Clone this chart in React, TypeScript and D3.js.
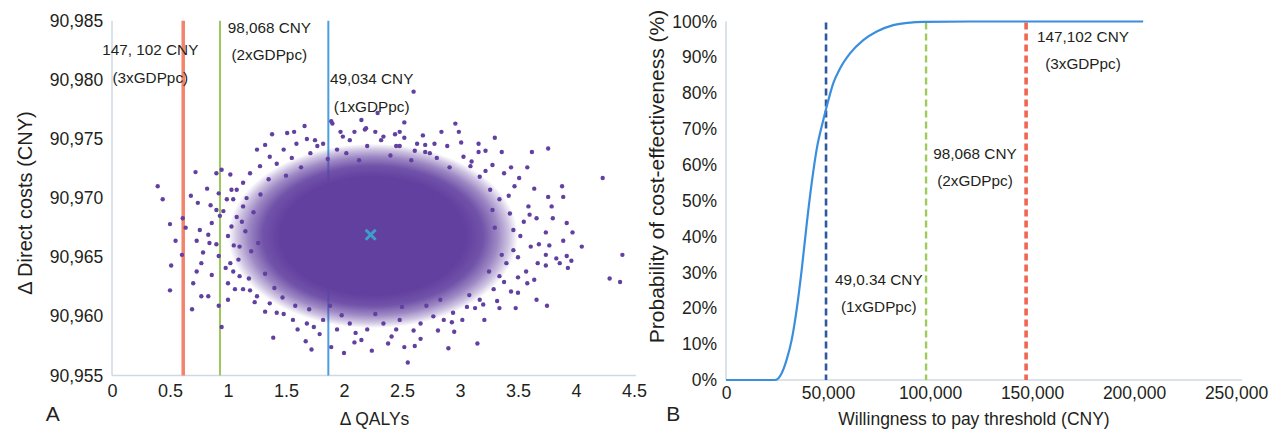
import React, { useEffect, useRef } from "react";
import * as d3 from "d3";

const W = 1279;
const H = 430;
const FONT = "'Liberation Sans', Arial, Helvetica, sans-serif";
const INK = "#231f20";
const PURPLE = "#6240a0";

// ---- panel A : cost-effectiveness plane ----
const qalyTicks = [0, 0.5, 1, 1.5, 2, 2.5, 3, 3.5, 4, 4.5];
const costTicks = [90955, 90960, 90965, 90970, 90975, 90980, 90985];

// where the three WTP lines sit on the QALY axis
const planeLineQaly = [0.614, 0.931, 1.865];
const planeLineWtp = ["147, 102 CNY", "98,068 CNY", "49,034 CNY"];
const planeLineGdp = ["(3xGDPpc)", "(2xGDPpc)", "(1xGDPpc)"];

// the dense part of the PSA cloud: centre and half-width (QALY, CNY)
const cloudCenter = [2.25, 90966.8];
const cloudSpread = [1.25, 7.8];
const meanPoint = [2.23, 90966.9];

// the sparse PSA iterations around the cloud [QALY, cost]
const psaPoints: [number, number][] = [
  [0.394, 90971.0], [0.437, 90969.9], [0.5, 90967.8], [0.548, 90966.4], [0.51, 90964.3], [0.5, 90962.2],
  [0.61, 90968.3], [0.635, 90967.5], [0.603, 90965.2], [0.7, 90962.8], [0.69, 90960.6], [0.72, 90972.2],
  [0.68, 90970.2], [0.74, 90969.6], [0.757, 90967.3], [0.73, 90966.4], [0.785, 90965.4], [0.77, 90964.5],
  [0.73, 90963.8], [0.77, 90961.7], [0.83, 90961.7], [0.82, 90970.8], [0.85, 90969.4], [0.86, 90967.9],
  [0.83, 90966.9], [0.84, 90966.2], [0.86, 90963.5], [0.9, 90972.1], [0.945, 90972.4], [0.92, 90970.4],
  [0.9, 90969.0], [0.93, 90968.5], [0.9, 90966.1], [0.92, 90965.1], [0.92, 90960.9], [0.945, 90959.1],
  [1.02, 90972.0], [1.03, 90970.7], [0.99, 90969.9], [1.0, 90962.8], [1.0, 90961.4], [1.06, 90962.3],
  [1.1, 90963.4], [1.19, 90962.2], [1.25, 90974.1], [1.32, 90974.5], [1.38, 90975.4], [1.51, 90975.5],
  [1.57, 90975.6], [1.39, 90958.2], [1.32, 90960.4], [1.23, 90961.2], [1.48, 90960.2], [1.67, 90957.9],
  [1.6, 90958.9], [1.74, 90959.1], [1.9, 90976.3], [1.89, 90957.4], [2.0, 90956.9], [2.09, 90957.8],
  [2.15, 90958.0], [2.41, 90958.3], [1.99, 90975.2], [2.09, 90975.6], [2.18, 90975.8], [2.32, 90974.9],
  [1.68, 90975.0], [1.77, 90974.4], [2.29, 90977.2], [2.6, 90979.0], [1.89, 90976.5], [2.19, 90975.9],
  [2.96, 90976.3], [2.84, 90975.6], [2.48, 90975.6], [2.44, 90975.4], [2.63, 90974.6], [2.7, 90974.5],
  [2.78, 90974.6], [3.01, 90974.7], [3.16, 90974.6], [3.3, 90975.1], [3.36, 90973.9], [3.16, 90973.9],
  [2.61, 90974.0], [3.62, 90973.9], [3.76, 90974.2], [3.58, 90972.6], [3.51, 90971.7], [3.64, 90970.8],
  [3.76, 90970.1], [3.88, 90971.0], [3.89, 90970.1], [3.79, 90969.3], [3.59, 90969.3], [3.6, 90968.6],
  [3.66, 90968.3], [3.8, 90968.3], [3.92, 90967.9], [3.97, 90967.1], [3.74, 90967.1], [3.89, 90966.4],
  [4.05, 90965.9], [3.77, 90966.0], [3.68, 90966.1], [3.61, 90965.9], [3.74, 90965.2], [3.83, 90964.9],
  [3.92, 90965.1], [3.96, 90964.7], [3.93, 90964.1], [3.86, 90964.5], [3.74, 90964.3], [3.67, 90964.5],
  [3.64, 90963.1], [3.57, 90963.8], [3.5, 90963.3], [3.5, 90962.0], [3.44, 90962.1], [3.66, 90961.4],
  [3.75, 90960.9], [3.48, 90960.7], [3.34, 90960.7], [3.21, 90959.7], [3.13, 90960.7], [3.02, 90959.7],
  [2.93, 90959.5], [2.86, 90959.7], [2.81, 90958.8], [2.66, 90958.1], [2.61, 90957.5], [2.52, 90957.4],
  [3.15, 90957.7], [2.55, 90956.1], [4.23, 90971.7], [4.4, 90965.2], [4.29, 90963.2], [4.38, 90962.9],
  [3.44, 90972.6], [3.38, 90972.1], [3.28, 90972.8],
  [1.276, 90972.7], [1.19, 90972.1], [1.13, 90971.3], [1.075, 90970.7], [1.045, 90969.9], [1.03, 90967.6],
  [1.0, 90966.8], [1.02, 90964.5], [1.045, 90963.8], [1.09, 90964.8], [1.1, 90965.9], [1.075, 90968.4],
  [1.13, 90969.3], [1.13, 90962.3], [1.25, 90961.7], [1.36, 90961.1], [1.42, 90960.3], [1.56, 90959.7],
  [1.68, 90959.4], [1.82, 90959.7], [1.94, 90958.9], [2.05, 90959.4], [2.2, 90958.9], [2.34, 90959.4],
  [2.45, 90958.9], [1.36, 90973.5], [1.48, 90974.1], [1.59, 90974.6], [1.71, 90973.8], [1.82, 90974.6],
  [1.94, 90974.1], [2.05, 90974.9], [2.2, 90974.4], [2.34, 90975.2], [2.45, 90974.4],
  [3.03, 90973.5], [3.09, 90972.7], [3.17, 90971.8], [3.26, 90970.7], [3.34, 90969.9], [3.43, 90968.7],
  [3.46, 90967.3], [3.52, 90966.8], [3.46, 90965.6], [3.4, 90964.5], [3.34, 90963.4], [3.29, 90962.3],
  [3.17, 90961.4], [3.06, 90960.8], [2.94, 90960.3], [2.77, 90960.0], [2.66, 90959.4], [2.48, 90959.7],
  [2.89, 90974.4], [2.74, 90973.8], [2.48, 90974.4],
  [1.42, 90972.9], [1.55, 90973.4], [1.63, 90972.6], [1.75, 90974.9], [1.86, 90973.3], [1.97, 90975.6],
  [2.02, 90973.8], [2.13, 90973.2], [2.27, 90975.6], [2.4, 90973.6], [2.52, 90975.1], [2.58, 90973.2],
  [2.68, 90975.3], [2.8, 90973.4], [2.91, 90972.6], [2.99, 90975.6], [3.1, 90973.1], [3.22, 90974.0],
  [1.5, 90971.9], [2.7, 90973.9], [2.15, 90976.6], [2.52, 90976.4], [1.66, 90976.1],
  [1.47, 90961.6], [1.58, 90960.9], [1.7, 90960.6], [1.79, 90958.5], [1.88, 90960.9], [1.98, 90960.1],
  [2.1, 90958.6], [2.27, 90960.2], [2.38, 90957.7], [2.5, 90960.8], [2.6, 90958.8], [2.71, 90960.9],
  [2.83, 90961.4], [2.95, 90958.7], [3.08, 90961.8], [3.2, 90961.0], [2.24, 90957.1], [1.72, 90957.2],
  [2.9, 90957.3],
  [1.15, 90967.2], [1.2, 90965.5], [1.22, 90968.8], [1.28, 90970.3], [1.32, 90963.6], [1.18, 90963.2],
  [1.26, 90966.2], [1.12, 90968.0], [1.35, 90971.6], [1.4, 90962.4], [1.05, 90966.0], [1.16, 90970.0],
  [0.98, 90964.1], [0.96, 90968.9],
  [3.3, 90967.5], [3.36, 90965.2], [3.28, 90969.0], [3.42, 90970.2], [3.25, 90963.8], [3.38, 90962.9],
  [3.5, 90965.0], [3.55, 90968.0], [3.47, 90971.0], [3.32, 90961.3], [3.58, 90962.8], [3.22, 90972.3],
];

// ---- panel B : acceptability curve ----
const wtpTicks = [0, 50000, 100000, 150000, 200000, 250000];
const probTicks = [0, 10, 20, 30, 40, 50, 60, 70, 80, 90, 100];
const wtpThresholds = [49034, 98068, 147102];
const wtpLabels = ["49,0.34 CNY", "98,068 CNY", "147,102 CNY"];
const wtpGdp = ["(1xGDPpc)", "(2xGDPpc)", "(3xGDPpc)"];

const ceacWtp = [0, 24000, 27300, 29700, 32200, 34600, 37100, 39600, 42000, 44400, 47700, 50200,
  52600, 55900, 60800, 67300, 73900, 82000, 89000, 96700, 120000, 204500];
const ceacProb = [0, 0, 1.9, 5.6, 11.2, 19.5, 30.7, 43.7, 54.9, 64.2, 72.5, 78.1,
  82.8, 86.9, 91.1, 94.8, 97.2, 99.0, 99.6, 99.9, 100, 100];

// layout bits (pixels)
const layoutA = {
  labels: [[150.3, 50, 77.7], [269.3, 27.3, 55], [371.7, 79, 106.7]],
  lineColor: ["#f3836b", "#9bc95c", "#4b9ee0"],
  lineWidth: [3.5, 2, 2],
};
const layoutB = {
  labels: [[878.8, 279.3, 306.7], [975, 154, 181], [1083, 36.7, 63.3]],
  lineColor: ["#2d5a9e", "#9ccc5a", "#f26650"],
  lineWidth: [2.6, 2.4, 3.6],
};

type Sel = d3.Selection<SVGSVGElement, unknown, null, undefined>;

function styleAxis(g: d3.Selection<SVGGElement, unknown, null, undefined>, size: number) {
  g.select(".domain").remove();
  g.attr("font-family", FONT).attr("font-size", size);
  g.selectAll("text").attr("fill", INK);
}

function text(svg: Sel, x: number, y: number, s: string, size: number, rotate = false) {
  svg.append("text")
    .attr("transform", rotate ? `translate(${x},${y}) rotate(-90)` : `translate(${x},${y})`)
    .attr("dy", "0.35em")
    .attr("text-anchor", "middle")
    .attr("font-family", FONT)
    .attr("font-size", size)
    .attr("fill", INK)
    .text(s);
}

function drawPlane(svg: Sel) {
  const x = d3.scaleLinear().domain([0, 4.5]).range([112, 634]);
  const y = d3.scaleLinear().domain([90955, 90985]).range([375.5, 20.7]);

  // axis lines
  svg.append("line").attr("x1", x(0)).attr("x2", x(0)).attr("y1", y(90985)).attr("y2", y(90955))
    .attr("stroke", "#cfd9e3").attr("stroke-width", 1.5);
  svg.append("line").attr("x1", x(0)).attr("x2", x(4.5) + 2).attr("y1", y(90955)).attr("y2", y(90955))
    .attr("stroke", "#cfd9e3").attr("stroke-width", 1.5);

  // threshold lines
  planeLineQaly.forEach((q, i) => {
    svg.append("line")
      .attr("x1", x(q)).attr("x2", x(q))
      .attr("y1", y(90985)).attr("y2", y(90955))
      .attr("stroke", layoutA.lineColor[i])
      .attr("stroke-width", layoutA.lineWidth[i]);
  });

  planeLineWtp.forEach((s, i) => {
    const [lx, ly1, ly2] = layoutA.labels[i];
    text(svg, lx, ly1, s, 15.3);
    text(svg, lx, ly2, planeLineGdp[i], 15.3);
  });

  // dense cloud
  const grad = svg.append("defs").append("radialGradient").attr("id", "cloudFill");
  [[0, 1], [0.64, 1], [0.76, 0.9], [0.86, 0.62], [0.94, 0.3], [1, 0]].forEach(([o, a]) => {
    grad.append("stop").attr("offset", o).attr("stop-color", PURPLE).attr("stop-opacity", a);
  });
  svg.append("ellipse")
    .attr("cx", x(cloudCenter[0]))
    .attr("cy", y(cloudCenter[1]))
    .attr("rx", x(cloudCenter[0] + cloudSpread[0]) - x(cloudCenter[0]))
    .attr("ry", y(cloudCenter[1] - cloudSpread[1]) - y(cloudCenter[1]))
    .attr("fill", "url(#cloudFill)");

  svg.append("g")
    .selectAll("circle")
    .data(psaPoints)
    .enter().append("circle")
    .attr("cx", d => x(d[0]))
    .attr("cy", d => y(d[1]))
    .attr("r", 2.2)
    .attr("fill", PURPLE);

  // mean marker
  const mx = x(meanPoint[0]), my = y(meanPoint[1]);
  svg.append("path")
    .attr("d", `M${mx - 5},${my - 5}L${mx + 5},${my + 5}M${mx + 5},${my - 5}L${mx - 5},${my + 5}`)
    .attr("stroke", "#3f9ec8").attr("stroke-width", 3);

  const yAxis = svg.append("g")
    .attr("transform", `translate(${x(0)},0)`)
    .call(d3.axisLeft(y).tickValues(costTicks).tickFormat(d3.format(",")).tickSize(0).tickPadding(8.7));
  styleAxis(yAxis, 17.5);

  const xAxis = svg.append("g")
    .attr("transform", `translate(0,${y(90955)})`)
    .call(d3.axisBottom(x).tickValues(qalyTicks).tickFormat(d => String(d)).tickSize(0).tickPadding(8.8));
  styleAxis(xAxis, 18);

  text(svg, 25, 203, "Δ Direct costs (CNY)", 20, true);
  text(svg, 374.5, 418.5, "Δ QALYs", 17.5);
  text(svg, 52.7, 413.3, "A", 21);
}

function drawCeac(svg: Sel) {
  const x = d3.scaleLinear().domain([0, 250000]).range([726, 1236]);
  const y = d3.scaleLinear().domain([0, 100]).range([380, 21.5]);

  svg.append("line").attr("x1", x(0)).attr("x2", x(0)).attr("y1", y(100)).attr("y2", y(0))
    .attr("stroke", "#cfd9e3").attr("stroke-width", 1.5);
  svg.append("line").attr("x1", x(0)).attr("x2", x(250000) + 6).attr("y1", y(0)).attr("y2", y(0))
    .attr("stroke", "#cfd9e3").attr("stroke-width", 1.5);

  wtpThresholds.forEach((t, i) => {
    svg.append("line")
      .attr("x1", x(t)).attr("x2", x(t))
      .attr("y1", y(100) + 1).attr("y2", y(0))
      .attr("stroke", layoutB.lineColor[i])
      .attr("stroke-width", layoutB.lineWidth[i])
      .attr("stroke-dasharray", "7,4");
  });

  const line = d3.line<number>()
    .x((_, i) => x(ceacWtp[i]))
    .y(d => y(d))
    .curve(d3.curveMonotoneX);
  svg.append("path")
    .attr("d", line(ceacProb))
    .attr("fill", "none")
    .attr("stroke", "#3b8ede")
    .attr("stroke-width", 2.2);

  wtpLabels.forEach((s, i) => {
    const [lx, ly1, ly2] = layoutB.labels[i];
    text(svg, lx, ly1, s, 15.3);
    text(svg, lx, ly2, wtpGdp[i], 15.3);
  });

  const yAxis = svg.append("g")
    .attr("transform", `translate(${x(0)},0)`)
    .call(d3.axisLeft(y).tickValues(probTicks).tickFormat(d => `${d}%`).tickSize(0).tickPadding(9));
  styleAxis(yAxis, 17.5);

  const xAxis = svg.append("g")
    .attr("transform", `translate(0,${y(0)})`)
    .call(d3.axisBottom(x).tickValues(wtpTicks).tickFormat(d3.format(",")).tickSize(0).tickPadding(6.7));
  styleAxis(xAxis, 17.5);

  text(svg, 656.7, 176.5, "Probability of cost-effectiveness (%)", 21, true);
  text(svg, 974, 418.5, "Willingness to pay threshold (CNY)", 17.5);
  text(svg, 673.3, 413.3, "B", 21);
}

export default function App() {
  const ref = useRef<SVGSVGElement>(null);

  useEffect(() => {
    document.body.style.margin = "0";
    const svg = d3.select(ref.current as SVGSVGElement) as Sel;
    svg.selectAll("*").remove();
    drawPlane(svg);
    drawCeac(svg);
  }, []);

  return <svg ref={ref} width={W} height={H} style={{ display: "block", background: "#fff" }} />;
}
